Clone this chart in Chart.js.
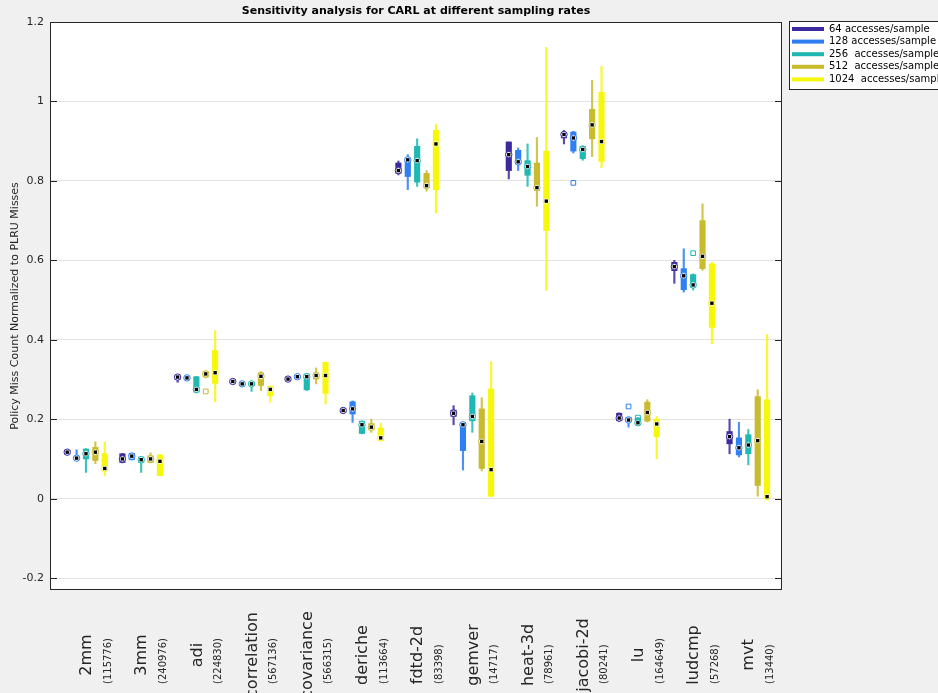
<!DOCTYPE html>
<html>
<head>
<meta charset="utf-8">
<script src="https://cdn.jsdelivr.net/npm/chart.js@4"></script>
<style>
  body { margin: 0; background: #f0f0f0; }
  #wrap { width: 938px; height: 693px; position: relative; }
</style>
</head>
<body>
<div id="wrap"><canvas id="myChart"></canvas></div>
<script>
// benchmarks and their sample counts (second line of each x label)
const categories = ["2mm", "3mm", "adi", "correlation", "covariance", "deriche", "fdtd-2d",
  "gemver", "heat-3d", "jacobi-2d", "lu", "ludcmp", "mvt"];
const counts = ["(115776)", "(240976)", "(224830)", "(567136)", "(566315)", "(113664)", "(83398)",
  "(14717)", "(78961)", "(80241)", "(164649)", "(57268)", "(13440)"];

const seriesNames = ["64 accesses/sample", "128 accesses/sample", "256  accesses/sample",
  "512  accesses/sample", "1024  accesses/sample"];
const seriesColors = ["#3b2a9f", "#2d7ff2", "#1fb8b2", "#c8bb2e", "#f7f70c"];

// one row per series, one value per benchmark
const medians = [
  [0.117, 0.100, 0.306, 0.295, 0.301, 0.222, 0.826, 0.215, 0.866, 0.917, 0.203, 0.584, 0.156],
  [0.102, 0.107, 0.304, 0.289, 0.307, 0.226, 0.853, 0.186, 0.848, 0.908, 0.198, 0.561, 0.128],
  [0.113, 0.098, 0.275, 0.289, 0.307, 0.186, 0.851, 0.207, 0.836, 0.879, 0.191, 0.538, 0.135],
  [0.117, 0.100, 0.314, 0.308, 0.310, 0.180, 0.788, 0.144, 0.783, 0.941, 0.217, 0.610, 0.146],
  [0.076, 0.094, 0.317, 0.275, 0.310, 0.153, 0.893, 0.073, 0.749, 0.899, 0.188, 0.492, 0.005]
];
const q1 = [
  [0.112, 0.091, 0.300, 0.291, 0.297, 0.217, 0.819, 0.207, 0.826, 0.908, 0.196, 0.574, 0.138],
  [0.098, 0.098, 0.300, 0.286, 0.303, 0.213, 0.811, 0.121, 0.843, 0.875, 0.194, 0.526, 0.110],
  [0.100, 0.091, 0.268, 0.286, 0.274, 0.164, 0.797, 0.196, 0.814, 0.856, 0.186, 0.532, 0.113],
  [0.096, 0.091, 0.306, 0.285, 0.301, 0.173, 0.783, 0.076, 0.776, 0.906, 0.195, 0.579, 0.033],
  [0.070, 0.058, 0.290, 0.259, 0.265, 0.146, 0.778, 0.006, 0.675, 0.849, 0.156, 0.431, 0.003]
];
const q3 = [
  [0.122, 0.113, 0.311, 0.299, 0.306, 0.227, 0.845, 0.223, 0.898, 0.921, 0.215, 0.595, 0.169],
  [0.106, 0.114, 0.308, 0.292, 0.310, 0.244, 0.856, 0.192, 0.877, 0.923, 0.205, 0.579, 0.153],
  [0.125, 0.105, 0.307, 0.292, 0.314, 0.195, 0.887, 0.259, 0.851, 0.887, 0.203, 0.564, 0.161],
  [0.129, 0.108, 0.320, 0.317, 0.316, 0.189, 0.819, 0.226, 0.845, 0.980, 0.243, 0.700, 0.257],
  [0.113, 0.110, 0.373, 0.283, 0.343, 0.178, 0.927, 0.276, 0.875, 1.023, 0.200, 0.591, 0.249]
];
const whiskLo = [
  [0.110, 0.090, 0.293, 0.289, 0.295, 0.215, 0.815, 0.186, 0.805, 0.893, 0.194, 0.542, 0.113],
  [0.096, 0.097, 0.299, 0.285, 0.302, 0.192, 0.778, 0.072, 0.826, 0.870, 0.180, 0.520, 0.105],
  [0.066, 0.066, 0.266, 0.270, 0.272, 0.163, 0.786, 0.167, 0.786, 0.852, 0.184, 0.525, 0.085],
  [0.088, 0.090, 0.304, 0.272, 0.289, 0.167, 0.774, 0.070, 0.736, 0.861, 0.193, 0.575, 0.006],
  [0.058, 0.057, 0.244, 0.243, 0.238, 0.145, 0.719, 0.005, 0.524, 0.833, 0.100, 0.390, 0.002]
];
const whiskHi = [
  [0.124, 0.114, 0.312, 0.300, 0.308, 0.229, 0.850, 0.234, 0.898, 0.927, 0.216, 0.600, 0.200],
  [0.123, 0.115, 0.309, 0.293, 0.311, 0.246, 0.866, 0.192, 0.883, 0.925, 0.206, 0.629, 0.192],
  [0.126, 0.106, 0.308, 0.293, 0.315, 0.196, 0.906, 0.266, 0.893, 0.889, 0.204, 0.566, 0.174],
  [0.143, 0.115, 0.322, 0.320, 0.329, 0.200, 0.826, 0.254, 0.909, 1.053, 0.249, 0.742, 0.274],
  [0.143, 0.111, 0.423, 0.284, 0.344, 0.190, 0.942, 0.345, 1.136, 1.088, 0.207, 0.595, 0.413]
];
// [benchmark index, series index, value]
const outliers = [[9, 1, 0.795], [10, 1, 0.232], [10, 2, 0.204], [11, 2, 0.618], [2, 3, 0.270]];

const yTicks = [-0.2, 0, 0.2, 0.4, 0.6, 0.8, 1, 1.2];
const offsets = [-0.34, -0.17, 0, 0.17, 0.34];

function fade(hex, a) {
  const n = parseInt(hex.slice(1), 16);
  return "rgba(" + (n >> 16) + "," + ((n >> 8) & 255) + "," + (n & 255) + "," + a + ")";
}

const datasets = [];
seriesNames.forEach((name, s) => {
  const pos = i => i + 1 + offsets[s];
  const col = seriesColors[s];
  datasets.push({
    type: "bar", grouped: false, order: 5, barThickness: 1.5,
    backgroundColor: fade(col, 0.85),
    data: categories.map((c, i) => ({ x: pos(i), y: [whiskLo[s][i], whiskHi[s][i]] }))
  });
  datasets.push({
    type: "bar", grouped: false, order: 4, barThickness: 5.5,
    backgroundColor: col,
    data: categories.map((c, i) => ({ x: pos(i), y: [q1[s][i], q3[s][i]] }))
  });
  datasets.push({
    type: "scatter", order: 3, pointStyle: "circle", pointRadius: 3.2, borderWidth: 1,
    backgroundColor: "#ffffff", borderColor: col,
    data: categories.map((c, i) => ({ x: pos(i), y: medians[s][i] }))
  });
  datasets.push({
    type: "scatter", order: 2, pointStyle: "rect", pointRadius: 2.4, borderWidth: 0,
    backgroundColor: "#000000",
    data: categories.map((c, i) => ({ x: pos(i), y: medians[s][i] }))
  });
  datasets.push({
    type: "scatter", order: 1, pointStyle: "rect", pointRadius: 3.3, borderWidth: 1,
    backgroundColor: "rgba(0,0,0,0)", borderColor: col,
    data: outliers.filter(o => o[1] === s).map(o => ({ x: o[0] + 1 + offsets[s], y: o[2] }))
  });
});

const FONT = "'DejaVu Sans', sans-serif";

// background, box, inward ticks, title, axis texts and legend (MATLAB look)
const decor = {
  id: "decor",
  beforeDraw(chart) {
    const { ctx, chartArea: a } = chart;
    ctx.save();
    ctx.fillStyle = "#f0f0f0";
    ctx.fillRect(0, 0, chart.width, chart.height);
    ctx.fillStyle = "#ffffff";
    ctx.fillRect(a.left, a.top, a.right - a.left, a.bottom - a.top);
    ctx.restore();
  },
  afterDraw(chart) {
    const { ctx, chartArea: a } = chart;
    const y = chart.scales.y, x = chart.scales.x;
    ctx.save();
    ctx.strokeStyle = "#262626";
    ctx.lineWidth = 1;
    ctx.strokeRect(a.left + 0.5, a.top + 0.5, a.right - a.left - 1, a.bottom - a.top - 1);
    yTicks.forEach(v => {
      const py = Math.round(y.getPixelForValue(v)) + 0.5;
      ctx.beginPath();
      ctx.moveTo(a.left, py); ctx.lineTo(a.left + 7, py);
      ctx.moveTo(a.right, py); ctx.lineTo(a.right - 7, py);
      ctx.stroke();
    });

    ctx.fillStyle = "#000000";
    ctx.font = "bold 11px " + FONT;
    ctx.textAlign = "center";
    ctx.textBaseline = "middle";
    ctx.fillText("Sensitivity analysis for CARL at different sampling rates", (a.left + a.right) / 2, 11);

    ctx.fillStyle = "#262626";
    ctx.save();
    ctx.translate(15, (a.top + a.bottom) / 2);
    ctx.rotate(-Math.PI / 2);
    ctx.font = "11px " + FONT;
    ctx.fillText("Policy Miss Count Normalized to PLRU Misses", 0, 0);
    ctx.restore();

    categories.forEach((c, i) => {
      const px = x.getPixelForValue(i + 1);
      ctx.save();
      ctx.translate(px + 1, 655);
      ctx.rotate(-Math.PI / 2);
      ctx.font = "16px " + FONT;
      ctx.textAlign = "center";
      ctx.fillText(c, 0, 0);
      ctx.restore();
      ctx.save();
      ctx.translate(px + 22, 684);
      ctx.rotate(-Math.PI / 2);
      ctx.font = "10px " + FONT;
      ctx.textAlign = "left";
      ctx.fillText(counts[i], 0, 0);
      ctx.restore();
    });

    // legend box, runs off the right edge like the original
    ctx.fillStyle = "#ffffff";
    ctx.fillRect(789, 21, 160, 68);
    ctx.strokeStyle = "#262626";
    ctx.strokeRect(789.5, 21.5, 160, 68);
    ctx.font = "10px " + FONT;
    ctx.textAlign = "left";
    seriesNames.forEach((n, s) => {
      const ly = 29 + s * 12.6;
      ctx.fillStyle = seriesColors[s];
      ctx.fillRect(792, ly - 2, 32, 4);
      ctx.fillStyle = "#000000";
      ctx.fillText(n, 829, ly);
    });
    ctx.restore();
  }
};

new Chart(document.getElementById("myChart"), {
  type: "bar",
  data: { datasets: datasets },
  options: {
    responsive: true,
    maintainAspectRatio: false,
    animation: false,
    layout: { padding: { top: 22, right: 156, bottom: 103, left: 0 } },
    plugins: { legend: { display: false }, tooltip: { enabled: false } },
    scales: {
      x: { type: "linear", min: 0.348, max: 13.61, offset: false, display: false },
      y: {
        min: -0.23, max: 1.2,
        afterFit: s => { s.width = 50; },
        afterBuildTicks: s => { s.ticks = yTicks.map(v => ({ value: v })); },
        grid: { color: "#e3e3e3", drawTicks: false },
        border: { display: false },
        ticks: {
          padding: 6, color: "#262626", font: { family: FONT, size: 11 },
          callback: v => String(+v.toFixed(1))
        }
      }
    }
  },
  plugins: [decor]
});
</script>
</body>
</html>
